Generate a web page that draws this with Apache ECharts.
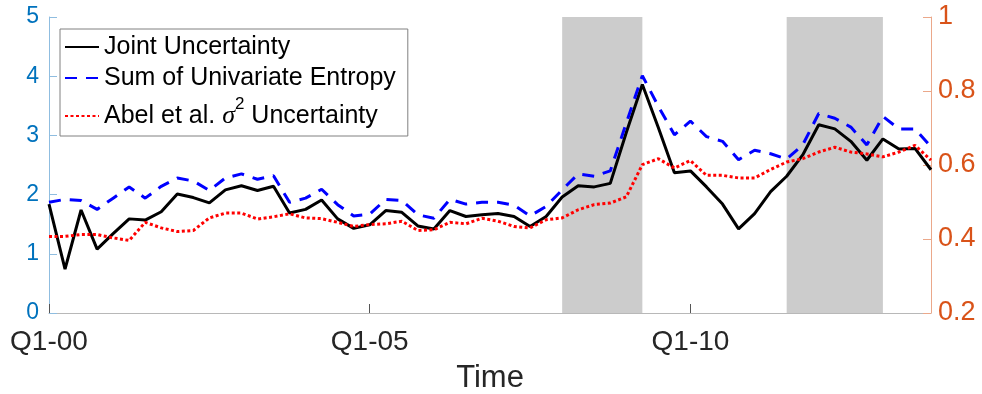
<!DOCTYPE html>
<html>
<head>
<meta charset="utf-8">
<script src="https://cdn.jsdelivr.net/npm/echarts@6/dist/echarts.min.js"></script>
<style>
  html, body { margin: 0; padding: 0; background: #fff; }
  #chart { width: 982px; height: 394px; }
</style>
</head>
<body>
<div id="chart"></div>
<script>
// Quarterly observations, Q1-2000 .. Q4-2013
const quarters = [
  'Q1-00','Q2-00','Q3-00','Q4-00','Q1-01','Q2-01','Q3-01','Q4-01',
  'Q1-02','Q2-02','Q3-02','Q4-02','Q1-03','Q2-03','Q3-03','Q4-03',
  'Q1-04','Q2-04','Q3-04','Q4-04','Q1-05','Q2-05','Q3-05','Q4-05',
  'Q1-06','Q2-06','Q3-06','Q4-06','Q1-07','Q2-07','Q3-07','Q4-07',
  'Q1-08','Q2-08','Q3-08','Q4-08','Q1-09','Q2-09','Q3-09','Q4-09',
  'Q1-10','Q2-10','Q3-10','Q4-10','Q1-11','Q2-11','Q3-11','Q4-11',
  'Q1-12','Q2-12','Q3-12','Q4-12','Q1-13','Q2-13','Q3-13','Q4-13'
];

// Left axis series
const jointUncertainty = [
  1.84, 0.74, 1.74, 1.08, 1.34, 1.59, 1.57, 1.71, 2.01, 1.95,
  1.86, 2.08, 2.15, 2.07, 2.14, 1.69, 1.75, 1.91, 1.59, 1.43,
  1.49, 1.73, 1.70, 1.47, 1.42, 1.73, 1.63, 1.66, 1.68, 1.63,
  1.46, 1.63, 1.96, 2.15, 2.13, 2.19, 3.05, 3.86, 3.13, 2.37,
  2.40, 2.13, 1.84, 1.42, 1.68, 2.05, 2.31, 2.67, 3.18, 3.11,
  2.90, 2.58, 2.94, 2.77, 2.78, 2.42
];
const univariateEntropySum = [
  1.87, 1.92, 1.90, 1.75, 1.94, 2.13, 1.94, 2.14, 2.28, 2.23,
  2.07, 2.28, 2.35, 2.26, 2.32, 1.87, 1.94, 2.09, 1.83, 1.64,
  1.67, 1.92, 1.90, 1.66, 1.60, 1.92, 1.84, 1.87, 1.87, 1.82,
  1.64, 1.80, 2.08, 2.35, 2.31, 2.40, 3.21, 4.01, 3.49, 3.01,
  3.24, 2.98, 2.90, 2.59, 2.75, 2.69, 2.60, 2.84, 3.37, 3.29,
  3.14, 2.84, 3.32, 3.11, 3.11, 2.81
];
// Right axis series
const abelSigma2 = [
  0.407, 0.407, 0.412, 0.412, 0.403, 0.396, 0.445, 0.430, 0.420, 0.423,
  0.457, 0.470, 0.470, 0.454, 0.460, 0.468, 0.457, 0.455, 0.445, 0.434,
  0.439, 0.441, 0.448, 0.423, 0.425, 0.445, 0.441, 0.456, 0.448, 0.434,
  0.430, 0.452, 0.457, 0.479, 0.493, 0.497, 0.514, 0.601, 0.617, 0.592,
  0.612, 0.572, 0.572, 0.565, 0.565, 0.588, 0.608, 0.617, 0.635, 0.648,
  0.635, 0.630, 0.622, 0.635, 0.653, 0.613
];

// Shaded recession periods (start, end)
const shadedPeriods = [['Q1-08', 'Q2-09'], ['Q3-11', 'Q1-13']];

const seriesNames = ['Joint Uncertainty', 'Sum of Univariate Entropy', 'Abel et al. σ² Uncertainty'];

const FONT = 'Liberation Sans, Arial, Helvetica, sans-serif';
const LEFT_COLOR = '#0072BD';
const RIGHT_COLOR = '#D95319';

const chart = echarts.init(document.getElementById('chart'), null, { renderer: 'canvas' });

chart.setOption({
  animation: false,
  backgroundColor: '#ffffff',
  grid: { left: 49, right: 51, top: 17, bottom: 81, containLabel: false, outerBoundsMode: 'none' },
  legend: {
    orient: 'vertical',
    left: 60,
    top: 29,
    padding: [5, 12, 0, 4],
    itemGap: 5,
    itemWidth: 34,
    itemHeight: 14,
    backgroundColor: '#ffffff',
    borderColor: '#808080',
    borderWidth: 1,
    borderRadius: 0,
    data: seriesNames,
    // line-only legend keys (hide the marker drawn in the middle of the key)
    itemStyle: { opacity: 0, borderWidth: 0 },
    formatter: function (name) {
      if (name === seriesNames[2]) {
        return '{a|Abel et al. }{s|σ}{p|2}{a| Uncertainty}';
      }
      return name;
    },
    textStyle: {
      fontFamily: FONT,
      fontSize: 25,
      lineHeight: 26,
      color: '#000000',
      rich: {
        a: { fontFamily: FONT, fontSize: 25, lineHeight: 40, color: '#000000' },
        s: { fontFamily: 'Liberation Serif, serif', fontStyle: 'italic', fontSize: 26, lineHeight: 40, color: '#000000' },
        p: { fontFamily: FONT, fontSize: 17, lineHeight: 16, verticalAlign: 'top', color: '#000000' }
      }
    }
  },
  xAxis: {
    type: 'category',
    data: quarters,
    boundaryGap: false,
    name: 'Time',
    nameLocation: 'middle',
    nameGap: 50,
    nameTextStyle: { fontFamily: FONT, fontSize: 31, color: '#262626' },
    axisLine: { show: true, lineStyle: { color: '#b8b8b8', width: 1 } },
    axisTick: { show: true, inside: true, length: 9, interval: 19, lineStyle: { color: '#555555' } },
    axisLabel: { interval: 19, margin: 15, fontFamily: FONT, fontSize: 28, color: '#262626' },
    splitLine: { show: false }
  },
  yAxis: [
    {
      type: 'value',
      min: 0,
      max: 5,
      interval: 1,
      position: 'left',
      axisLine: { show: true, lineStyle: { color: '#8fbde0', width: 1 } },
      axisTick: { show: true, inside: true, length: 8, lineStyle: { color: '#8fbde0' } },
      axisLabel: { margin: 10, fontFamily: FONT, fontSize: 23, color: LEFT_COLOR },
      splitLine: { show: false }
    },
    {
      type: 'value',
      min: 0.2,
      max: 1,
      interval: 0.2,
      position: 'right',
      axisLine: { show: true, lineStyle: { color: '#eba88a', width: 1 } },
      axisTick: { show: true, inside: true, length: 8, lineStyle: { color: '#eba88a' } },
      axisLabel: {
        margin: 7, fontFamily: FONT, fontSize: 27, color: RIGHT_COLOR,
        formatter: function (v) { return String(Math.round(v * 10) / 10); }
      },
      splitLine: { show: false }
    }
  ],
  series: [
    {
      name: seriesNames[0],
      type: 'line',
      yAxisIndex: 0,
      data: jointUncertainty,
      symbol: 'none',
      lineStyle: { color: '#000000', width: 3, type: 'solid' },
      itemStyle: { color: '#000000' },
      z: 3,
      markArea: {
        silent: true,
        itemStyle: { color: '#cccccc', opacity: 1 },
        data: shadedPeriods.map(function (p) { return [{ xAxis: p[0] }, { xAxis: p[1] }]; })
      }
    },
    {
      name: seriesNames[1],
      type: 'line',
      yAxisIndex: 0,
      data: univariateEntropySum,
      symbol: 'none',
      lineStyle: { color: '#0000ff', width: 3, type: [12, 9] },
      itemStyle: { color: '#0000ff' },
      z: 4
    },
    {
      name: seriesNames[2],
      type: 'line',
      yAxisIndex: 1,
      data: abelSigma2,
      symbol: 'none',
      lineStyle: { color: '#ff0000', width: 3, type: [3, 2.5] },
      itemStyle: { color: '#ff0000' },
      z: 5
    }
  ]
});
</script>
</body>
</html>
